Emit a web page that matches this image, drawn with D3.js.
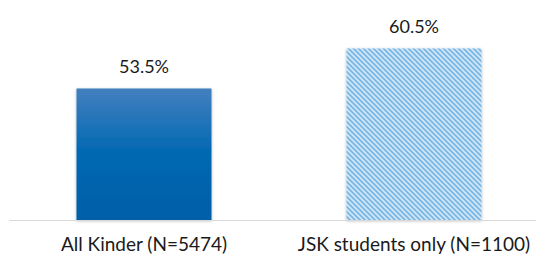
<!DOCTYPE html>
<html>
<head>
<meta charset="utf-8">
<script src="https://cdn.jsdelivr.net/npm/d3@7"></script>
<style>
  body { margin: 0; background: #fff; }
  svg { display: block; font-family: Lato, sans-serif; }
</style>
</head>
<body>
<svg id="chart" width="536" height="260"></svg>
<script>
// donnees du graphique
const categories = ["All Kinder (N=5474)", "JSK students only (N=1100)"];
const valeurs = [53.5, 60.5];
const etiquettes = ["53.5%", "60.5%"];

let svg = d3.select("#chart");
let defs = svg.append("defs");

// degrade de la premiere barre
let grad = defs.append("linearGradient")
    .attr("id", "degrade")
    .attr("x1", 0).attr("y1", 0).attr("x2", 0).attr("y2", 1);
grad.append("stop").attr("offset", "0%").attr("stop-color", "#4380bf");
grad.append("stop").attr("offset", "50%").attr("stop-color", "#0068b1");
grad.append("stop").attr("offset", "100%").attr("stop-color", "#005fa8");

// hachures de la seconde barre
let motif = defs.append("pattern")
    .attr("id", "hachures")
    .attr("patternUnits", "userSpaceOnUse")
    .attr("width", 5).attr("height", 5);
motif.append("rect").attr("width", 5).attr("height", 5).attr("fill", "#d3e8f8");
motif.append("path")
    .attr("d", "M-1,-1 L6,6 M-1,4 L1,6 M4,-1 L6,1")
    .attr("stroke", "#78b6e6")
    .attr("stroke-width", 1.8);

// ombre legere
let ombre = defs.append("filter").attr("id", "ombre")
    .attr("x", "-10%").attr("y", "-10%").attr("width", "120%").attr("height", "120%");
ombre.append("feDropShadow")
    .attr("dx", 0).attr("dy", 1).attr("stdDeviation", 1.6)
    .attr("flood-color", "#000").attr("flood-opacity", 0.3);

let x = d3.scaleBand()
    .domain(categories)
    .range([9, 549])
    .paddingInner(0.5)
    .paddingOuter(0.25);

let y = d3.scaleLinear()
    .domain([30.5, 66])
    .range([220, 17]);

let remplissages = ["url(#degrade)", "url(#hachures)"];

// barres
svg.selectAll(".barre")
    .data(valeurs)
    .join("rect")
    .attr("class", "barre")
    .attr("x", (d, i) => x(categories[i]))
    .attr("y", d => y(d))
    .attr("width", x.bandwidth())
    .attr("height", d => y.range()[0] - y(d))
    .attr("fill", (d, i) => remplissages[i])
    .attr("filter", "url(#ombre)");

// axe des abscisses
svg.append("line")
    .attr("x1", 9).attr("x2", 536)
    .attr("y1", 220.5).attr("y2", 220.5)
    .attr("stroke", "#d9d9d9")
    .attr("stroke-width", 1.2);

// etiquettes de valeur
svg.selectAll(".valeur")
    .data(valeurs)
    .join("text")
    .attr("class", "valeur")
    .attr("x", (d, i) => x(categories[i]) + x.bandwidth() / 2)
    .attr("y", d => y(d) - 15)
    .attr("text-anchor", "middle")
    .attr("font-size", "18px")
    .attr("fill", "#1a1a1a")
    .text((d, i) => etiquettes[i]);

// noms des categories
svg.selectAll(".categorie")
    .data(categories)
    .join("text")
    .attr("class", "categorie")
    .attr("x", d => x(d) + x.bandwidth() / 2)
    .attr("y", 251)
    .attr("text-anchor", "middle")
    .attr("font-size", "19px")
    .attr("fill", "#1a1a1a")
    .text(d => d);
</script>
</body>
</html>
